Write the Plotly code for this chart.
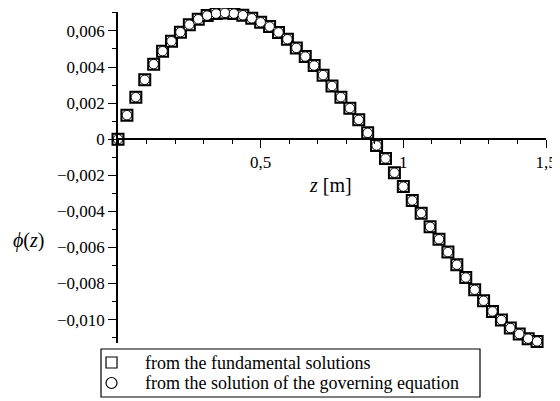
import plotly.graph_objs as go

# z [m], 49 equally spaced points on 0..1.5
z = [i * 1.5 / 48 for i in range(49)]

# phi(z) (x 1e-3)
phi_fund = [0.00, 1.33, 2.33, 3.29, 4.16, 4.88, 5.43, 5.93, 6.35, 6.65,
            6.85, 6.96, 7.00, 6.96, 6.87, 6.70, 6.48, 6.24, 5.92, 5.54,
            5.06, 4.58, 4.08, 3.55, 2.95, 2.33, 1.72, 1.07, 0.35, -0.35,
            -1.07, -1.86, -2.63, -3.40, -4.10, -4.86, -5.55, -6.26, -6.96, -7.67,
            -8.35, -8.96, -9.55, -10.03, -10.47, -10.80, -11.06, -11.21, -11.30]
phi_gov = list(phi_fund)

phi_fund = [v * 1e-3 for v in phi_fund]
phi_gov = [v * 1e-3 for v in phi_gov]

x_ticks = [0.5, 1.0, 1.5]
x_labels = ['0,5', '1', '1,5']
y_ticks = [0.006, 0.004, 0.002, 0.0, -0.002, -0.004, -0.006, -0.008, -0.010]
y_labels = ['0,006', '0,004', '0,002', '0', '\u22120,002', '\u22120,004',
            '\u22120,006', '\u22120,008', '\u22120,010']

names = ['from the fundamental solutions',
         'from the solution of the governing equation']

y_range = [-0.0113, 0.00705]
x_range = [0, 1.5]
zero_pos = (0 - y_range[0]) / (y_range[1] - y_range[0])

font = 'Liberation Serif'
tfont = dict(family=font, size=17, color='black')

trace1 = go.Scatter(name=names[0], x=z, y=phi_fund,
                    mode='markers', cliponaxis=False,
                    marker=dict(symbol='square', size=11, color='white',
                                line=dict(color='black', width=2)))
trace2 = go.Scatter(name=names[1], x=z, y=phi_gov,
                    mode='markers', cliponaxis=False,
                    marker=dict(symbol='circle', size=9.5, color='white',
                                line=dict(color='black', width=1)))

axis_common = dict(showgrid=False, zeroline=False,
                   showline=True, linecolor='black', linewidth=1.5,
                   tickmode='array', ticks='outside', ticklen=8, tickwidth=1.2,
                   tickcolor='black', tickfont=tfont)

# legend box drawn by hand (paper coords, relative to the plot area)
legend_shapes = [
    dict(type='rect', xref='paper', yref='paper', x0=-0.0397, x1=0.8458,
         y0=-0.1631, y1=-0.0181, line=dict(color='black', width=1.2)),
    dict(type='rect', xref='paper', yref='paper', x0=-0.0280, x1=-0.0023,
         y0=-0.0755, y1=-0.0423, line=dict(color='black', width=1.2)),
    dict(type='circle', xref='paper', yref='paper', x0=-0.0280, x1=-0.0023,
         y0=-0.1375, y1=-0.1042, line=dict(color='black', width=1.2)),
]
legend_texts = [
    dict(text=names[0], x=0.0584, y=-0.0595, xref='paper', yref='paper',
         xanchor='left', yanchor='middle', showarrow=False,
         font=dict(family=font, size=18)),
    dict(text=names[1], x=0.0584, y=-0.1208, xref='paper', yref='paper',
         xanchor='left', yanchor='middle', showarrow=False,
         font=dict(family=font, size=18)),
]

layout = go.Layout(width=552, height=393,
                   margin=dict(l=110, r=14, t=4, b=58, autoexpand=False),
                   paper_bgcolor='white', plot_bgcolor='white',
                   font=dict(family=font, size=17, color='black'),
                   showlegend=False,
                   xaxis=go.layout.XAxis(range=x_range, anchor='free', position=zero_pos,
                                         tickvals=x_ticks, ticktext=x_labels,
                                         minor=dict(tickmode='linear', tick0=0, dtick=0.1,
                                                    ticks='outside', ticklen=4,
                                                    tickcolor='black', tickwidth=1),
                                         **axis_common),
                   yaxis=go.layout.YAxis(range=y_range,
                                         tickvals=y_ticks, ticktext=y_labels,
                                         minor=dict(tickmode='linear', tick0=0, dtick=0.001,
                                                    ticks='outside', ticklen=4,
                                                    tickcolor='black', tickwidth=1),
                                         **axis_common),
                   shapes=legend_shapes,
                   annotations=[dict(text='<i>z</i> [m]', x=0.746, y=-0.00253,
                                     xref='x', yref='y', showarrow=False,
                                     font=dict(family=font, size=20)),
                                dict(text='<i>\u03d5</i>(<i>z</i>)', x=-0.209, y=0.31,
                                     xref='paper', yref='paper', showarrow=False,
                                     xanchor='center', yanchor='middle',
                                     font=dict(family=font, size=20))] + legend_texts)

fig = go.Figure(data=[trace1, trace2], layout=layout)
fig.write_html("out.html")
